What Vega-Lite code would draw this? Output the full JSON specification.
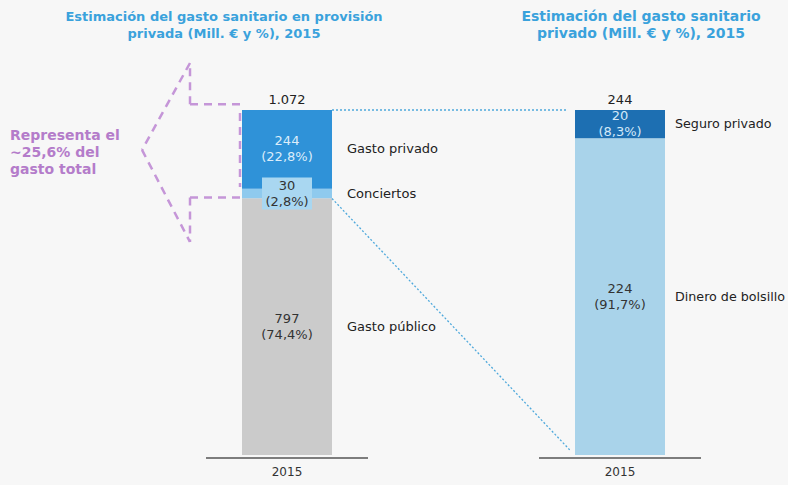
{
  "$schema": "https://vega.github.io/schema/vega-lite/v6.json",
  "width": 788,
  "height": 485,
  "autosize": {"type": "none"},
  "padding": 0,
  "background": "#f7f7f7",
  "config": {
    "view": {"stroke": null},
    "locale": {"number": {"decimal": ",", "thousands": ".", "grouping": [3], "currency": ["", " €"]}},
    "text": {"font": "DejaVu Sans", "fontSize": 13}
  },
  "datasets": {
    "gasto": [
      {"panel": "Provisión", "anio": "2015", "categoria": "Gasto público", "valor": 797.4, "pct": "(74,4%)"},
      {"panel": "Provisión", "anio": "2015", "categoria": "Conciertos", "valor": 30.2, "pct": "(2,8%)"},
      {"panel": "Provisión", "anio": "2015", "categoria": "Gasto privado", "valor": 244.4, "pct": "(22,8%)"},
      {"panel": "Privado", "anio": "2015", "categoria": "Dinero de bolsillo", "valor": 224, "pct": "(91,7%)"},
      {"panel": "Privado", "anio": "2015", "categoria": "Seguro privado", "valor": 20, "pct": "(8,3%)"}
    ]
  },
  "data": {"name": "gasto"},
  "encoding": {
    "x": {"field": "panel", "type": "nominal", "scale": {"type": "point", "domain": ["Provisión", "Privado"], "range": [287, 620], "padding": 0}, "axis": null}
  },
  "layer": [
    {
      "layer": [
        {
          "transform": [
            {"filter": "datum.panel === 'Provisión'"},
            {"stack": "valor", "groupby": ["panel"], "as": ["y0", "y1"]}
          ],
          "layer": [
            {
              "mark": {"type": "bar", "width": 90},
              "encoding": {
                "y": {"field": "y0", "type": "quantitative", "scale": {"domain": [0, 1072], "range": [455, 110], "nice": false, "zero": false}, "axis": null},
                "y2": {"field": "y1"},
                "color": {"field": "categoria", "type": "nominal", "legend": null,
                  "scale": {"domain": ["Gasto público", "Conciertos", "Gasto privado", "Dinero de bolsillo", "Seguro privado"],
                            "range": ["#cbcbcb", "#8fcaee", "#2f92d8", "#a9d3ea", "#1d6fb2"]}}
              }
            },
            {
              "mark": {"type": "rule", "strokeWidth": 1.5, "color": "#555555", "xOffset": -81, "x2Offset": 81, "yOffset": 3},
              "encoding": {"x2": {"field": "panel"}, "y": {"aggregate": "min", "field": "y0", "type": "quantitative"}}
            },
            {
              "mark": {"type": "text", "dy": 17, "fontSize": 12, "color": "#333333"},
              "encoding": {"y": {"aggregate": "min", "field": "y0", "type": "quantitative"}, "text": {"field": "anio", "type": "nominal"}}
            },
            {
              "mark": {"type": "text", "dy": -10, "color": "#222222"},
              "encoding": {"y": {"aggregate": "sum", "field": "valor", "type": "quantitative"}, "text": {"aggregate": "sum", "field": "valor", "type": "quantitative", "format": ",.0f"}}
            },
            {
              "mark": {"type": "text", "text": ["Estimación del gasto sanitario en provisión", "privada (Mill. € y %), 2015"], "dx": -63, "dy": -93, "fontWeight": "bold", "fontSize": 13, "color": "#3aa2dc", "lineHeight": 17},
              "encoding": {"y": {"aggregate": "sum", "field": "valor", "type": "quantitative"}}
            },
            {
              "transform": [
                {"fold": ["y0", "y1"], "as": ["extremo", "nivel"]},
                {"aggregate": [{"op": "mean", "field": "nivel", "as": "medio"}], "groupby": ["panel", "categoria", "valor", "pct"]}
              ],
              "encoding": {"y": {"field": "medio", "type": "quantitative"}},
              "layer": [
                {
                  "transform": [{"filter": "datum.categoria === 'Conciertos'"}],
                  "mark": {"type": "rule", "strokeWidth": 32, "color": "#a9d7f1", "xOffset": -25, "x2Offset": 25},
                  "encoding": {"x2": {"field": "panel"}}
                },
                {
                  "mark": {"type": "text", "dy": -8},
                  "encoding": {
                    "text": {"field": "valor", "type": "quantitative", "format": ",.0f"},
                    "color": {"condition": {"test": "datum.categoria === 'Gasto privado'", "value": "#dcedfa"}, "value": "#333333"}
                  }
                },
                {
                  "mark": {"type": "text", "dy": 8},
                  "encoding": {
                    "text": {"field": "pct", "type": "nominal"},
                    "color": {"condition": {"test": "datum.categoria === 'Gasto privado'", "value": "#dcedfa"}, "value": "#333333"}
                  }
                },
                {
                  "mark": {"type": "text", "align": "left", "dx": 60, "color": "#222222"},
                  "encoding": {"text": {"field": "categoria", "type": "nominal"}}
                }
              ]
            }
          ]
        },
        {
          "data": {"values": [{}]},
          "mark": {"type": "rule", "color": "#4fa9dc", "strokeDash": [2, 2], "strokeWidth": 1.3, "xOffset": 45, "x2Offset": -53},
          "encoding": {"x": {"datum": "Provisión"}, "x2": {"datum": "Privado"}, "y": {"datum": 1072}}
        },
        {
          "data": {"values": [{}]},
          "mark": {"type": "rule", "color": "#4fa9dc", "strokeDash": [2, 2], "strokeWidth": 1.3, "xOffset": 45, "x2Offset": -50},
          "encoding": {"x": {"datum": "Provisión"}, "x2": {"datum": "Privado"}, "y": {"datum": 797}, "y2": {"datum": 15}}
        },
        {
          "data": {"values": [{}]},
          "mark": {"type": "rule", "color": "#c596d8", "strokeDash": [8, 6], "strokeWidth": 2.5, "xOffset": -97, "x2Offset": -47},
          "encoding": {"x": {"datum": "Provisión"}, "x2": {"datum": "Provisión"}, "y": {"datum": 1090}}
        },
        {
          "data": {"values": [{}]},
          "mark": {"type": "rule", "color": "#c596d8", "strokeDash": [8, 6], "strokeWidth": 2.5, "xOffset": -97, "x2Offset": -47},
          "encoding": {"x": {"datum": "Provisión"}, "x2": {"datum": "Provisión"}, "y": {"datum": 800}}
        },
        {
          "data": {"values": [{}]},
          "mark": {"type": "rule", "color": "#c596d8", "strokeDash": [8, 6], "strokeWidth": 2.5, "xOffset": -47},
          "encoding": {"x": {"datum": "Provisión"}, "y": {"datum": 1063}, "y2": {"datum": 833}}
        },
        {
          "data": {"values": [{}]},
          "mark": {"type": "rule", "color": "#c596d8", "strokeDash": [8, 6], "strokeWidth": 2.5, "xOffset": -97},
          "encoding": {"x": {"datum": "Provisión"}, "y": {"datum": 1090}, "y2": {"datum": 1218}}
        },
        {
          "data": {"values": [{}]},
          "mark": {"type": "rule", "color": "#c596d8", "strokeDash": [8, 6], "strokeWidth": 2.5, "xOffset": -97},
          "encoding": {"x": {"datum": "Provisión"}, "y": {"datum": 800}, "y2": {"datum": 662}}
        },
        {
          "data": {"values": [{}]},
          "mark": {"type": "rule", "color": "#c596d8", "strokeDash": [8, 6], "strokeWidth": 2.5, "xOffset": -97, "x2Offset": -145},
          "encoding": {"x": {"datum": "Provisión"}, "x2": {"datum": "Provisión"}, "y": {"datum": 1218}, "y2": {"datum": 948}}
        },
        {
          "data": {"values": [{}]},
          "mark": {"type": "rule", "color": "#c596d8", "strokeDash": [8, 6], "strokeWidth": 2.5, "xOffset": -145, "x2Offset": -97},
          "encoding": {"x": {"datum": "Provisión"}, "x2": {"datum": "Provisión"}, "y": {"datum": 948}, "y2": {"datum": 662}}
        },
        {
          "data": {"values": [{}]},
          "mark": {"type": "text", "text": ["Representa el", "~25,6% del", "gasto total"], "align": "left", "baseline": "middle", "dx": -277, "dy": -14, "fontWeight": "bold", "fontSize": 14, "color": "#b47cca", "lineHeight": 17},
          "encoding": {"x": {"datum": "Provisión"}, "y": {"datum": 948}}
        }
      ]
    },
    {
      "transform": [
        {"filter": "datum.panel === 'Privado'"},
        {"stack": "valor", "groupby": ["panel"], "as": ["y0", "y1"]}
      ],
      "layer": [
        {
          "mark": {"type": "bar", "width": 90},
          "encoding": {
            "y": {"field": "y0", "type": "quantitative", "scale": {"domain": [0, 244], "range": [455, 110], "nice": false, "zero": false}, "axis": null},
            "y2": {"field": "y1"},
            "color": {"field": "categoria", "type": "nominal", "legend": null}
          }
        },
        {
          "mark": {"type": "rule", "strokeWidth": 1.5, "color": "#555555", "xOffset": -81, "x2Offset": 81, "yOffset": 3},
          "encoding": {"x2": {"field": "panel"}, "y": {"aggregate": "min", "field": "y0", "type": "quantitative"}}
        },
        {
          "mark": {"type": "text", "dy": 17, "fontSize": 12, "color": "#333333"},
          "encoding": {"y": {"aggregate": "min", "field": "y0", "type": "quantitative"}, "text": {"field": "anio", "type": "nominal"}}
        },
        {
          "mark": {"type": "text", "dy": -10, "color": "#222222"},
          "encoding": {"y": {"aggregate": "sum", "field": "valor", "type": "quantitative"}, "text": {"aggregate": "sum", "field": "valor", "type": "quantitative", "format": ",.0f"}}
        },
        {
          "mark": {"type": "text", "text": ["Estimación del gasto sanitario", "privado (Mill. € y %), 2015"], "dx": 21, "dy": -93, "fontWeight": "bold", "fontSize": 14, "color": "#3aa2dc", "lineHeight": 17},
          "encoding": {"y": {"aggregate": "sum", "field": "valor", "type": "quantitative"}}
        },
        {
          "transform": [
            {"fold": ["y0", "y1"], "as": ["extremo", "nivel"]},
            {"aggregate": [{"op": "mean", "field": "nivel", "as": "medio"}], "groupby": ["panel", "categoria", "valor", "pct"]}
          ],
          "encoding": {"y": {"field": "medio", "type": "quantitative"}},
          "layer": [
            {
              "mark": {"type": "text", "dy": -8},
              "encoding": {
                "text": {"field": "valor", "type": "quantitative", "format": ",.0f"},
                "color": {"condition": {"test": "datum.categoria === 'Seguro privado'", "value": "#d4e9f8"}, "value": "#333333"}
              }
            },
            {
              "mark": {"type": "text", "dy": 8},
              "encoding": {
                "text": {"field": "pct", "type": "nominal"},
                "color": {"condition": {"test": "datum.categoria === 'Seguro privado'", "value": "#d4e9f8"}, "value": "#333333"}
              }
            },
            {
              "mark": {"type": "text", "align": "left", "dx": 55, "fontSize": 12.7, "color": "#222222"},
              "encoding": {"text": {"field": "categoria", "type": "nominal"}}
            }
          ]
        }
      ]
    }
  ],
  "resolve": {"scale": {"y": "independent"}}
}
